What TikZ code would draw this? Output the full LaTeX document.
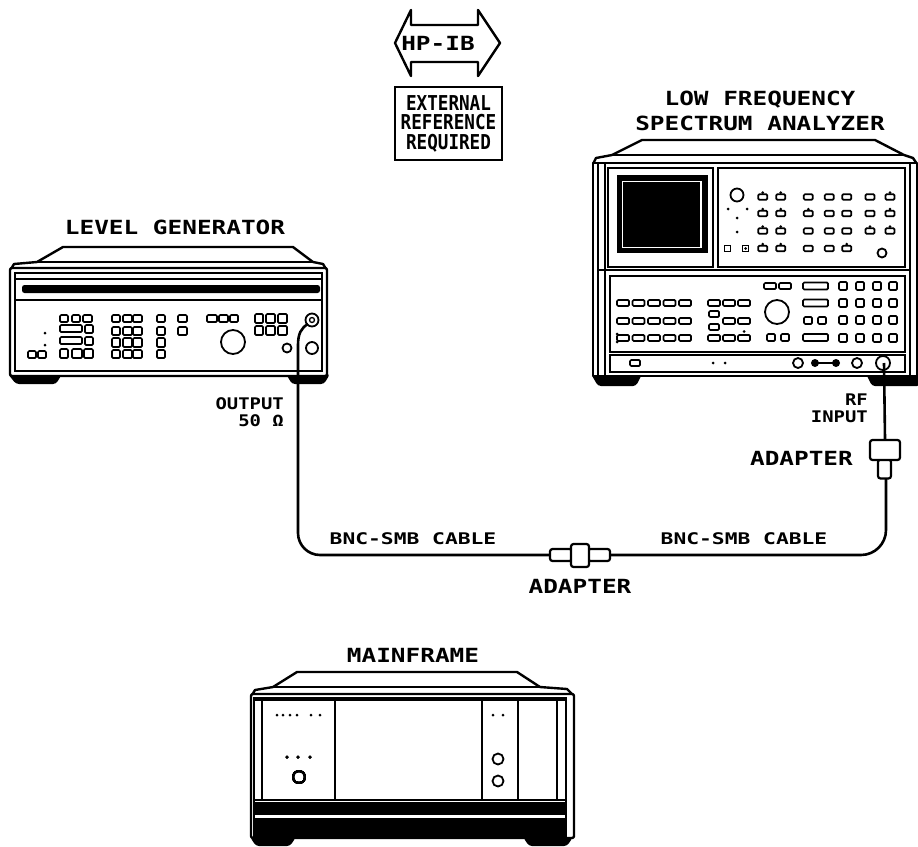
\documentclass[tikz,border=0pt]{standalone}
\usepackage{fontspec}
\usepackage{graphicx}
\newfontfamily\hpf{DejaVu Sans Mono}
\newcommand\hpbig[1]{{\fontsize{19.5}{22}\selectfont\scalebox{1.25}[1]{#1}}}
\newcommand\hpsml[1]{{\fontsize{16}{18}\selectfont\scalebox{1.18}[1]{#1}}}
\newcommand\hpcab[1]{{\fontsize{16}{18}\selectfont\scalebox{1.33}[1]{#1}}}
\newcommand\hpbox[1]{\scalebox{0.86}[1]{#1}}
\tikzset{
  ol/.style={line width=2.4pt, line join=round},
  hair/.style={line width=1.3pt},
  mid/.style={line width=1.8pt},
  btn/.style={line width=1.7pt, rounded corners=1.2pt, fill=white},
  cable/.style={line width=2.6pt},
  lbl/.style={inner sep=0pt, font=\hpf\bfseries},
  adp/.style={draw, line width=2.2pt, rounded corners=2.5pt, fill=white, inner sep=0pt},
}
\newcommand\sab[3]{\draw[btn] ({#1-4.5},{#2-2.8}) rectangle ({#1+4.5},{#2+2.8});
  \ifnum#3=1 \fill (#1,{#2-4.3}) circle (1.5pt);\fi}
\newcommand\sdot[2]{\fill (#1,#2) circle (1.5pt);}
\begin{document}
\begin{tikzpicture}[x=1pt,y=-1pt]
\useasboundingbox (0,0) rectangle (918,846);

% ================= HP-IB and box =================
\draw[ol] (395,43) -- (411,10) -- (411,25) -- (478,25) -- (478,10) -- (500,43)
  -- (478,76) -- (478,62) -- (411,62) -- (411,76) -- cycle;
\node[lbl] (hpib) at (438,43) {\hpbig{HP-IB}};
\node[draw, line width=2.4pt, minimum width=107pt, minimum height=73pt, inner sep=0pt,
  align=center, font={\hpf\fontseries{sb}\bfseries\fontsize{20.5}{19.5}\selectfont}] (ext) at (448.5,123.5)
  {\hpbox{EXTERNAL}\\\hpbox{REFERENCE}\\\hpbox{REQUIRED}};

% ================= LEVEL GENERATOR =================
\node[lbl] (lgname) at (175,227) {\hpbig{LEVEL GENERATOR}};
\draw[ol, fill=white] (11,269) -- (14,264) -- (37,262) -- (63,247) -- (293,247)
  -- (313,262) -- (323,264) -- (326,269);
\draw[hair] (37,262) -- (313,262);
\fill[rounded corners=3] (8,374) -- (62,374) -- (56,384) -- (16,384) -- cycle;
\fill[rounded corners=3] (286,374) -- (330,374) -- (324,384) -- (292,384) -- cycle;
\draw[ol, rounded corners=2, fill=white] (10,268) rectangle (327,376);
\draw[hair] (15,273) rectangle (322,371);
\draw[hair] (15,279) -- (322,279);
\fill[rounded corners=2.5] (22,285) rectangle (320,293);
\draw[hair] (15,300) -- (322,300);
% group 1
\draw[btn] (60,315) rectangle (68,322);
\draw[btn] (72,315) rectangle (80,322);
\draw[btn] (83,315) rectangle (92,322);
\draw[btn] (60,325) rectangle (82,332);
\draw[btn] (85,325) rectangle (93,333);
\draw[btn] (60,337) rectangle (82,344);
\draw[btn] (85,337) rectangle (93,345);
\draw[btn] (60,349) rectangle (68,358);
\draw[btn] (72,349) rectangle (82,358);
\draw[btn] (84,349) rectangle (93,358);
\sdot{45}{333}\sdot{45}{345}
\draw[btn] (28,351) rectangle (36,358);
\draw[btn] (38,351) rectangle (46,358);
% group 2
\foreach \xa/\xb in {112/120,123/132,133/142}
  \foreach \ya/\yb in {315/322,327/335,338/347,350/358}
    \draw[btn] (\xa,\ya) rectangle (\xb,\yb);
% group 3
\foreach \ya/\yb in {315/322,327/335,338/347,350/358}
  \draw[btn] (157,\ya) rectangle (165,\yb);
% group 4
\foreach \ya/\yb in {315/322,327/335}
  \draw[btn] (178,\ya) rectangle (187,\yb);
% group 5
\foreach \xa/\xb in {207/217,219/228,230/238}
  \draw[btn] (\xa,315) rectangle (\xb,322);
% group 6
\foreach \xa/\xb in {255/263,266/275,278/287}
  \foreach \ya/\yb in {314/323,326/335}
    \draw[btn] (\xa,\ya) rectangle (\xb,\yb);
\draw[mid] (233,342) circle (12pt);
\draw[mid] (287,348) circle (4.5pt);
\draw[mid] (312,348) circle (6pt);
\draw[mid] (312,320) circle (6.5pt);
\draw[hair] (312,320) circle (2.5pt);
\coordinate (lgjack) at (308,324);

% ================= SPECTRUM ANALYZER =================
\node[lbl] (saname1) at (760,100) {\hpbig{LOW FREQUENCY}};
\node[lbl] (saname2) at (760,123) {\hpbig{SPECTRUM ANALYZER}};
\draw[ol, fill=white] (593,164) -- (596,158) -- (612,155) -- (642,140) -- (875,140)
  -- (904,155) -- (913,158) -- (917,164);
\draw[hair] (612,155) -- (904,155);
\fill[rounded corners=3] (591,374) -- (642,374) -- (636,386) -- (598,386) -- cycle;
\fill[rounded corners=3] (866,374) -- (920,374) -- (920,386) -- (872,386) -- cycle;
\draw[ol, fill=white] (593,163) rectangle (917,376);
\draw[hair] (598,163) -- (598,376);
\draw[hair] (605,163) -- (605,376);
\draw[hair] (910,163) -- (910,376);
\draw[mid] (608,168) rectangle (713,267);
\draw[mid] (718,168) rectangle (905,267);
\draw[hair] (598,270) -- (910,270);
\draw[mid] (610,276) rectangle (905,352);
\draw[mid] (610,355) rectangle (905,372);
% screen
\fill (617,175) rectangle (708,253);
\draw[white, line width=1.2pt] (622.5,181.5) rectangle (701,247.5);
% upper buttons
\draw[mid] (737,195) circle (6.5pt);
\sdot{728}{209}\sdot{747}{209}\sdot{737}{218}\sdot{737}{232}
\foreach \x/\d in {762.7/1,780.7/1,808.3/0,829.3/0,846.7/0,870/0,890/1} {\sab{\x}{197}{\d}}
\foreach \x/\d in {762.7/1,780.7/1,808.3/1,829.3/0,846.7/0,870/0,890/1} {\sab{\x}{213.5}{\d}}
\foreach \x/\d in {762.7/1,780.7/1,808.3/0,829.3/0,846.7/0,870/1,890/1} {\sab{\x}{231}{\d}}
\foreach \x/\d in {762.7/1,780.7/1,808.3/0,829.3/0,846.7/1} {\sab{\x}{248.5}{\d}}
\draw[line width=1.4pt] (724.5,245.5) rectangle (730.5,251.5);
\draw[line width=1.4pt] (742.5,245.5) rectangle (748.5,251.5);
\sdot{745.5}{248.5}
\draw[mid] (882,253) circle (4.5pt);
% lower panel buttons
\foreach \x in {623,638.5,654,669.5,685}
  \foreach \y in {303,321,338}
    \draw[btn] ({\x-6},{\y-3}) rectangle ({\x+6},{\y+3});
\sdot{617}{334}\sdot{617}{342}
\foreach \x in {714,729,744} \draw[btn] ({\x-6},300) rectangle ({\x+6},306);
\draw[btn] (709,311) rectangle (719,317);
\draw[btn] (709,324) rectangle (719,330);
\foreach \x in {729,744} \draw[btn] ({\x-6},318) rectangle ({\x+6},324);
\foreach \x in {714,729,744} \draw[btn] ({\x-6},335) rectangle ({\x+6},341);
\sdot{744}{331.5}
\draw[mid] (777,312) circle (12pt);
\draw[btn] (764,283) rectangle (776,289);
\draw[btn] (779,283) rectangle (791,289);
\draw[btn] (803,282.5) rectangle (828,289.5);
\draw[btn] (803,299.5) rectangle (828,306.5);
\draw[btn] (804,317) rectangle (812,324);
\draw[btn] (818,317) rectangle (826,324);
\draw[btn] (803,334) rectangle (828,341);
\draw[btn] (767,334) rectangle (775,341);
\draw[btn] (781,334) rectangle (789,341);
\foreach \x in {843,860,877,893}
  \foreach \y in {286,303,320,338}
    \draw[btn] ({\x-4},{\y-4}) rectangle ({\x+4},{\y+4});
% bottom strip
\draw[btn] (630,360) rectangle (640,366);
\sdot{713}{363}\sdot{725}{363}
\draw[mid] (798,363) circle (5pt);
\draw[line width=2.5pt] (815,363) -- (836,363);
\fill (815,363) circle (4pt);
\fill (836,363) circle (4pt);
\draw[mid] (857,363) circle (5pt);
\draw[mid] (883,363) circle (7pt);
\coordinate (sajack) at (884,363);

% ================= MAINFRAME =================
\node[lbl] (mfname) at (413,655) {\hpbig{MAINFRAME}};
\draw[ol, fill=white] (252,695) -- (255,690) -- (273,687) -- (297,672) -- (517,672)
  -- (540,687) -- (567,689) -- (573,695);
\draw[hair] (273,687) -- (540,687);
\fill[rounded corners=3] (250,837) -- (296,837) -- (290,846) -- (256,846) -- cycle;
\fill[rounded corners=3] (523,837) -- (573,837) -- (567,846) -- (529,846) -- cycle;
\draw[ol, rounded corners=2, fill=white] (251,694) rectangle (574,838);
\draw[hair] (254,698) rectangle (566,836);
\draw[hair] (254,700) -- (566,700);
\draw[hair] (254,800) -- (566,800);
\foreach \x in {262,335,482,518,557} \draw[hair] (\x,700) -- (\x,800);
\fill (254,802) rectangle (565,815);
\fill (254,818) rectangle (566,835);
\foreach \x in {277,283,290,297,311,320} \sdot{\x}{715}
\foreach \x in {287,298,310} \sdot{\x}{757}
\draw[mid] (299,777) circle (6pt);
\sdot{493}{715}\sdot{503}{715}
\draw[mid] (498,759) circle (5.5pt);
\draw[mid] (498,781) circle (5.5pt);

% ================= ADAPTERS =================
\node[adp, minimum width=22pt, minimum height=12pt] (adL) at (561,555) {};
\node[adp, minimum width=22pt, minimum height=12pt] (adR) at (599,555) {};
\node[adp, minimum width=18pt, minimum height=23pt] (adM) at (580,555.5) {};
\node[adp, minimum width=13pt, minimum height=19pt] (adB) at (884.5,469) {};
\node[adp, minimum width=30pt, minimum height=20pt] (adT) at (885,450) {};

% ================= CABLES =================
\draw[cable] (lgjack) .. controls (301,328) and (298,334) .. (298,345)
  [rounded corners=22] -- (298,555) -- (adL.west);
\draw[cable, rounded corners=25] (adR.east) -- (886,555) -- (886,478.5);
\draw[cable] (sajack) -- (adT.north);

% ================= LABELS =================
\node[lbl, anchor=east] (outlbl) at (284,404) {\hpsml{OUTPUT}};
\node[lbl, anchor=east] (ohmlbl) at (284,421) {\hpsml{50 Ω}};
\node[lbl, anchor=east] (rflbl) at (868,400) {\hpsml{RF}};
\node[lbl, anchor=east] (inlbl) at (868,417) {\hpsml{INPUT}};
\node[lbl, anchor=east] (adrlbl) at (853,458) {\hpbig{ADAPTER}};
\node[lbl] (adblbl) at (580,586) {\hpbig{ADAPTER}};
\node[lbl] (cab1) at (413,539) {\hpcab{BNC-SMB CABLE}};
\node[lbl] (cab2) at (744,539) {\hpcab{BNC-SMB CABLE}};
\end{tikzpicture}
\end{document}
